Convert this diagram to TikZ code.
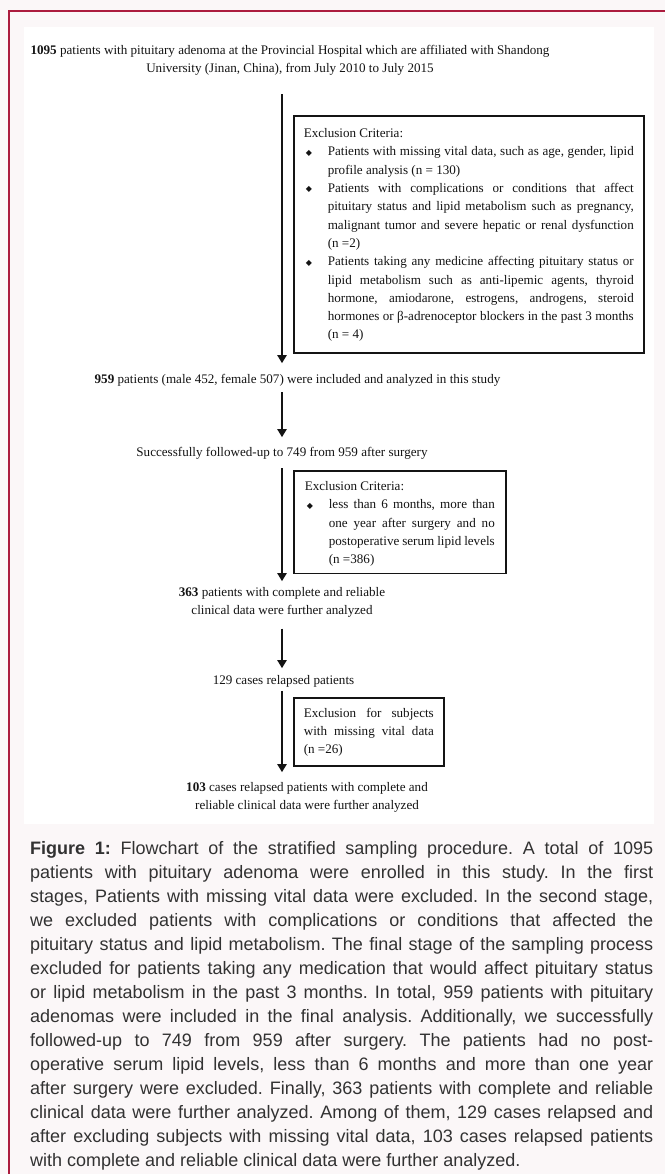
\documentclass[tikz,border=0pt]{standalone}
\usepackage{fontspec}
\setmainfont{Liberation Serif}
\newfontfamily\capfont{Liberation Sans}
\newfontfamily\symfont{DejaVu Sans}
\usetikzlibrary{arrows.meta}
\frenchspacing
\definecolor{pagebg}{RGB}{251,247,248}
\definecolor{redline}{RGB}{172,28,62}
\definecolor{captext}{RGB}{50,50,50}
\definecolor{ink}{RGB}{20,20,20}
\newcommand{\dfont}{\fontsize{13.1}{18.3}\selectfont\frenchspacing}
\newcommand{\dbul}{\makebox[24pt][l]{\hspace{2pt}\raisebox{0.6pt}{\symfont\fontsize{8}{8}\selectfont ◆}}}
\tikzset{
  txt/.style={inner sep=0pt, align=center, font=\dfont, text=ink},
  exbox/.style={draw=ink, line width=1.6pt, inner xsep=10pt, inner ysep=8.5pt,
    align=justify, font=\dfont, text=ink, anchor=north west},
  arr/.style={draw=ink, line width=2.6pt, -{Triangle[width=9pt,length=8pt]}},
  captxt/.style={inner sep=0pt, text width=623pt, align=justify,
    font=\capfont\fontsize{18}{24}\selectfont\frenchspacing, text=captext, anchor=north west}
}
\begin{document}
\begin{tikzpicture}[x=1pt,y=-1pt]
\useasboundingbox (0,0) rectangle (665,1174);
\fill[pagebg] (0,0) rectangle (665,1174);
\fill[white] (24,27) rectangle (654,824);
\draw[redline, line width=1.5pt] (9,1174) -- (9,11) -- (665,11);

\coordinate (spine) at (282,0);

\node[txt, anchor=north] (title) at (290,41.2)
  {\strut\textbf{1095} patients with pituitary adenoma at the Provincial Hospital which are affiliated with Shandong\\University (Jinan, China), from July 2010 to July 2015\strut};

\node[exbox, text width=330pt] (ex1) at (293,115.5) {%
\strut Exclusion Criteria:\par
\hangindent=24pt\hangafter=1\noindent\dbul Patients with missing vital data, such as age, gender, lipid\linebreak profile analysis (n = 130)\par
\hangindent=24pt\hangafter=1\noindent\dbul Patients with complications or conditions that affect\linebreak pituitary status and lipid metabolism such as pregnancy,\linebreak malignant tumor and severe hepatic or renal dysfunction\linebreak (n =2)\par
\hangindent=24pt\hangafter=1\noindent\dbul Patients taking any medicine affecting pituitary status or\linebreak lipid metabolism such as anti-lipemic agents, thyroid\linebreak hormone, amiodarone, estrogens, androgens, steroid\linebreak hormones or β-adrenoceptor blockers in the past 3 months\linebreak (n = 4)\strut\par};

\node[txt, anchor=north] (n959) at (297.5,370.2)
  {\strut\textbf{959} patients (male 452, female 507) were included and analyzed in this study};

\node[txt, anchor=north] (follow) at (282,443.2)
  {\strut Successfully followed-up to 749 from 959 after surgery};

\node[exbox, text width=190pt, inner xsep=11pt, inner ysep=7pt] (ex2) at (293,470) {%
\strut Exclusion Criteria:\par
\hangindent=24pt\hangafter=1\noindent\dbul less than 6 months, more than\linebreak one year after surgery and no\linebreak postoperative serum lipid levels\linebreak (n =386)\par};

\node[txt, anchor=north] (n363) at (282,583.2)
  {\strut\textbf{363} patients with complete and reliable\\clinical data were further analyzed\strut};

\node[txt, anchor=north] (n129) at (283.5,671.2)
  {\strut 129 cases relapsed patients\strut};

\node[exbox, text width=130pt, inner ysep=6.5pt] (ex3) at (293,697) {%
\strut Exclusion for subjects\linebreak with missing vital data\linebreak (n =26)\strut\par};

\node[txt, anchor=north] (n103) at (307,778.2)
  {\strut\textbf{103} cases relapsed patients with complete and\\reliable clinical data were further analyzed\strut};

\draw[arr, shorten <=16pt, shorten >=7pt] (title.south -| spine) -- (n959.north -| spine);
\draw[arr, shorten <=3.5pt, shorten >=6pt] (n959.south -| spine) -- (follow.north -| spine);
\draw[arr, shorten <=6.5pt, shorten >=2pt] (follow.south -| spine) -- (n363.north -| spine);
\draw[arr, shorten <=8.5pt, shorten >=3pt] (n363.south -| spine) -- (n129.north -| spine);
\draw[arr, shorten <=1pt, shorten >=6pt] (n129.south -| spine) -- (n103.north -| spine);

\node[captxt] (cap) at (30,837.2) {\strut\textbf{Figure 1:} Flowchart of the stratified sampling procedure. A total of 1095\linebreak
patients with pituitary adenoma were enrolled in this study. In the first\linebreak
stages, Patients with missing vital data were excluded. In the second stage,\linebreak
we excluded patients with complications or conditions that affected the\linebreak
pituitary status and lipid metabolism. The final stage of the sampling process\linebreak
excluded for patients taking any medication that would affect pituitary status\linebreak
or lipid metabolism in the past 3 months. In total, 959 patients with pituitary\linebreak
adenomas were included in the final analysis. Additionally, we successfully\linebreak
followed-up to 749 from 959 after surgery. The patients had no post-\linebreak
operative serum lipid levels, less than 6 months and more than one year\linebreak
after surgery were excluded. Finally, 363 patients with complete and reliable\linebreak
clinical data were further analyzed. Among of them, 129 cases relapsed and\linebreak
after excluding subjects with missing vital data, 103 cases relapsed patients\linebreak
with complete and reliable clinical data were further analyzed.\strut\par};
\end{tikzpicture}
\end{document}
